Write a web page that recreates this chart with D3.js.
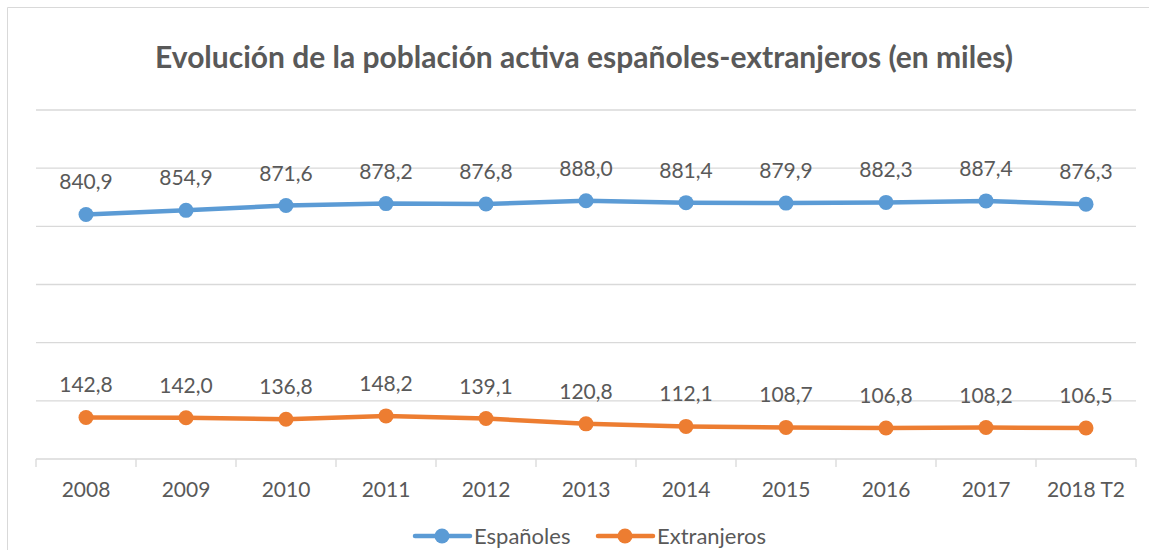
<!DOCTYPE html>
<html>

<head>
    <title>Población activa</title>
    <meta charset="utf-8">
    <style>
        body {
            margin: 0;
            background: #fff;
        }

        text {
            font-family: Lato, "Open Sans", sans-serif;
            fill: #595959;
        }

        .grid line {
            stroke: #d9d9d9;
            stroke-width: 1.3;
        }

        .title {
            font-weight: bold;
            font-size: 30px;
            text-anchor: middle;
        }
    </style>
</head>

<body>
    <svg width="1149" height="550"></svg>
    <script src="https://d3js.org/d3.v7.min.js"></script>
    <script>
        // Data
        var years = ["2008", "2009", "2010", "2011", "2012", "2013", "2014", "2015", "2016", "2017", "2018 T2"];
        var espanoles = [840.9, 854.9, 871.6, 878.2, 876.8, 888.0, 881.4, 879.9, 882.3, 887.4, 876.3];
        var extranjeros = [142.8, 142.0, 136.8, 148.2, 139.1, 120.8, 112.1, 108.7, 106.8, 108.2, 106.5];
        var seriesNames = ["Españoles", "Extranjeros"];
        var colors = ["#5b9bd5", "#ed7d31"];
        var yTicks = [0, 200, 400, 600, 800, 1000, 1200];

        var svg = d3.select("svg");

        var plotLeft = 36, plotRight = 1136, plotTop = 110, plotBottom = 459;

        var x = d3.scaleBand().domain(years).range([plotLeft, plotRight]);
        var y = d3.scaleLinear().domain([0, 1200]).range([plotBottom, plotTop]);

        // Chart border (only top and left visible)
        svg.append("path")
            .attr("d", "M7.5,550 V7.5 H1149")
            .attr("fill", "none")
            .attr("stroke", "#d9d9d9")
            .attr("stroke-width", 1);

        // Title
        svg.append("text")
            .attr("class", "title")
            .attr("x", 584)
            .attr("y", 68)
            .text("Evolución de la población activa españoles-extranjeros (en miles)");

        // Gridlines
        svg.append("g")
            .attr("class", "grid")
            .selectAll("line")
            .data(yTicks.slice(1))
            .enter().append("line")
            .attr("x1", plotLeft)
            .attr("x2", plotRight)
            .attr("y1", function (d) { return y(d); })
            .attr("y2", function (d) { return y(d); });

        // X axis
        var xAxis = svg.append("g")
            .attr("transform", "translate(0," + plotBottom + ")");
        xAxis.append("line")
            .attr("x1", plotLeft).attr("x2", plotRight)
            .attr("stroke", "#d9d9d9").attr("stroke-width", 1.3);
        xAxis.selectAll(".tick")
            .data(years.concat(["end"]))
            .enter().append("line")
            .attr("x1", function (d, i) { return i < years.length ? x(d) : plotRight; })
            .attr("x2", function (d, i) { return i < years.length ? x(d) : plotRight; })
            .attr("y1", 0).attr("y2", 8)
            .attr("stroke", "#d9d9d9").attr("stroke-width", 1.3);
        xAxis.selectAll(".lbl")
            .data(years)
            .enter().append("text")
            .attr("x", function (d) { return x(d) + x.bandwidth() / 2; })
            .attr("y", 38)
            .attr("text-anchor", "middle")
            .style("font-size", "21px")
            .text(function (d) { return d; });

        // Lines
        var fmt = function (v) { return v.toFixed(1).replace(".", ","); };
        var line = d3.line()
            .x(function (d, i) { return x(years[i]) + x.bandwidth() / 2; })
            .y(function (d) { return y(d); });

        [espanoles, extranjeros].forEach(function (values, s) {
            var g = svg.append("g");
            g.append("path")
                .datum(values)
                .attr("fill", "none")
                .attr("stroke", colors[s])
                .attr("stroke-width", 4.5)
                .attr("stroke-linejoin", "round")
                .attr("d", line);
            g.selectAll("circle")
                .data(values)
                .enter().append("circle")
                .attr("cx", function (d, i) { return x(years[i]) + x.bandwidth() / 2; })
                .attr("cy", function (d) { return y(d); })
                .attr("r", 7.5)
                .attr("fill", colors[s]);
            g.selectAll("text")
                .data(values)
                .enter().append("text")
                .attr("x", function (d, i) { return x(years[i]) + x.bandwidth() / 2; })
                .attr("y", function (d) { return y(d) - 25; })
                .attr("text-anchor", "middle")
                .style("font-size", "21px")
                .text(fmt);
        });

        // Legend
        var legendX = [415, 598];
        seriesNames.forEach(function (name, s) {
            var lg = svg.append("g").attr("transform", "translate(" + legendX[s] + ",536)");
            lg.append("line")
                .attr("x1", 0).attr("x2", 55)
                .attr("stroke", colors[s]).attr("stroke-width", 4.5)
                .attr("stroke-linecap", "round");
            lg.append("circle").attr("cx", 27).attr("r", 7.5).attr("fill", colors[s]);
            lg.append("text")
                .attr("x", 59)
                .attr("y", 7.5)
                .style("font-size", "22px")
                .text(name);
        });
    </script>
</body>

</html>
